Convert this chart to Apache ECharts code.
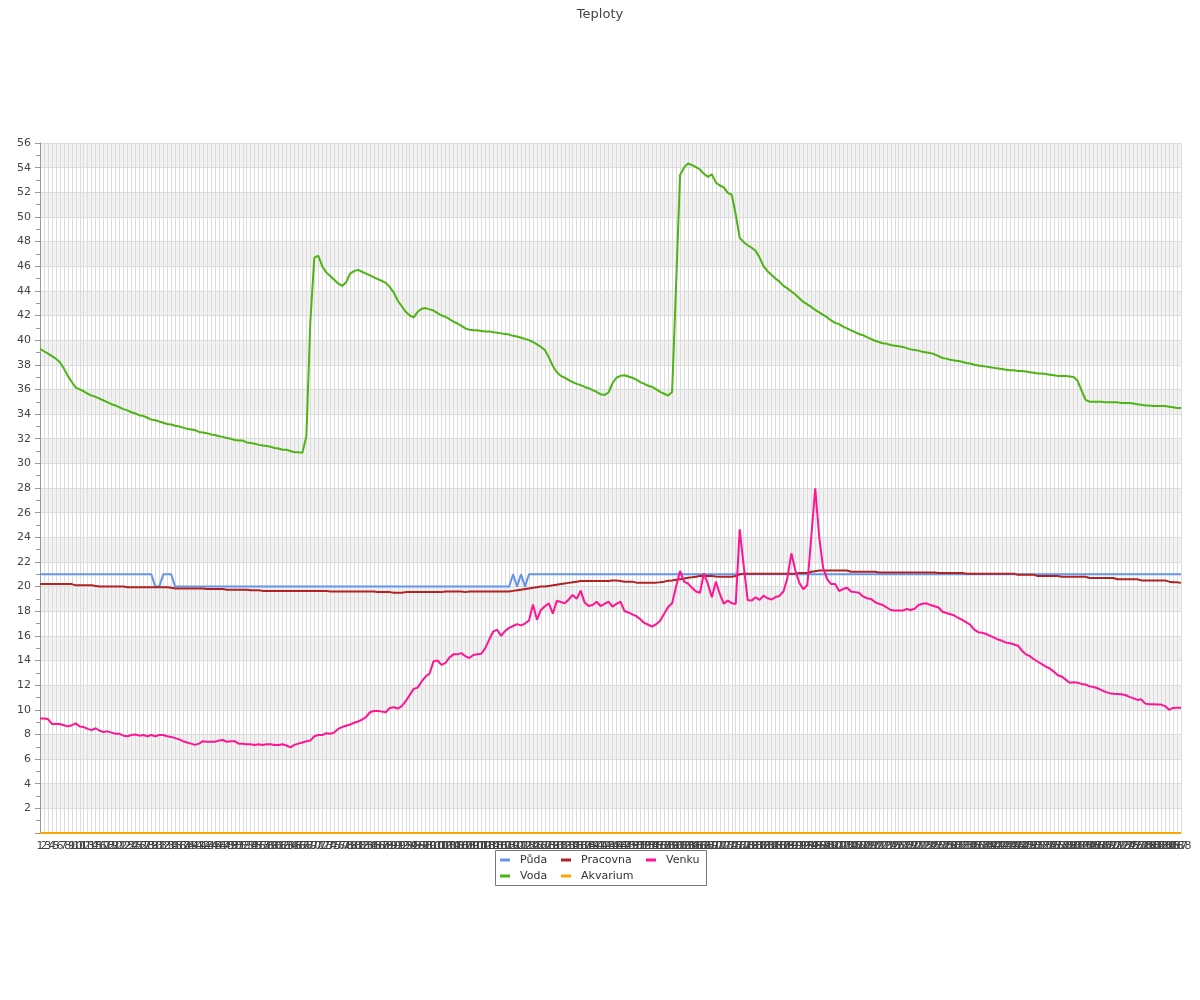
<!DOCTYPE html>
<html>
<head>
<meta charset="utf-8">
<script src="https://cdn.jsdelivr.net/npm/echarts@6/dist/echarts.min.js"></script>
<style>html,body{margin:0;padding:0;background:#fff;}#chart{width:1200px;height:1000px;}</style>
</head>
<body>
<div id="chart"></div>
<script>
// categories: sample numbers 1..288
const categories = Array.from({length: 288}, (_, i) => String(i + 1));

const puda = [
21,21,21,21,21,21,21,21,21,21,
21,21,21,21,21,21,21,21,21,21,
21,21,21,21,21,21,21,21,21,20,
20,21,21,21,20,20,20,20,20,20,
20,20,20,20,20,20,20,20,20,20,
20,20,20,20,20,20,20,20,20,20,
20,20,20,20,20,20,20,20,20,20,
20,20,20,20,20,20,20,20,20,20,
20,20,20,20,20,20,20,20,20,20,
20,20,20,20,20,20,20,20,20,20,
20,20,20,20,20,20,20,20,20,20,
20,20,20,20,20,20,20,20,20,21,
20,21,20,21,21,21,21,21,21,21,
21,21,21,21,21,21,21,21,21,21,
21,21,21,21,21,21,21,21,21,21,
21,21,21,21,21,21,21,21,21,21,
21,21,21,21,21,21,21,21,21,21,
21,21,21,21,21,21,21,21,21,21,
21,21,21,21,21,21,21,21,21,21,
21,21,21,21,21,21,21,21,21,21,
21,21,21,21,21,21,21,21,21,21,
21,21,21,21,21,21,21,21,21,21,
21,21,21,21,21,21,21,21,21,21,
21,21,21,21,21,21,21,21,21,21,
21,21,21,21,21,21,21,21,21,21,
21,21,21,21,21,21,21,21,21,21,
21,21,21,21,21,21,21,21,21,21,
21,21,21,21,21,21,21,21,21,21,
21,21,21,21,21,21,21,21
];

const voda = [
39.3,39.1,38.9,38.7,38.5,38.2,37.7,37.1,36.6,36.15,
36.0,35.85,35.65,35.5,35.4,35.25,35.1,34.95,34.8,34.7,
34.55,34.4,34.3,34.15,34.05,33.9,33.85,33.7,33.55,33.5,
33.4,33.3,33.2,33.15,33.05,33.0,32.9,32.8,32.75,32.7,
32.55,32.5,32.45,32.35,32.3,32.2,32.15,32.05,32.0,31.9,
31.85,31.85,31.7,31.65,31.6,31.5,31.45,31.4,31.35,31.25,
31.2,31.1,31.1,31.0,30.9,30.9,30.85,32.2,41.5,46.7,
46.85,46.0,45.5,45.2,44.9,44.6,44.4,44.7,45.4,45.6,
45.7,45.55,45.4,45.25,45.1,44.95,44.8,44.65,44.3,43.85,
43.2,42.75,42.3,42.0,41.85,42.3,42.55,42.6,42.5,42.4,
42.2,42.0,41.9,41.7,41.5,41.35,41.15,40.95,40.85,40.8,
40.8,40.75,40.7,40.7,40.65,40.6,40.55,40.5,40.45,40.35,
40.3,40.2,40.1,40.0,39.85,39.65,39.45,39.2,38.6,37.9,
37.4,37.1,36.95,36.75,36.6,36.45,36.35,36.2,36.1,35.95,
35.8,35.6,35.55,35.75,36.5,36.95,37.1,37.15,37.05,36.95,
36.8,36.6,36.45,36.3,36.2,36.0,35.8,35.65,35.5,35.8,
44.5,53.4,54.0,54.35,54.2,54.05,53.85,53.5,53.25,53.45,
52.8,52.55,52.4,51.95,51.8,50.2,48.3,47.95,47.7,47.5,
47.25,46.7,46.0,45.6,45.3,45.0,44.75,44.4,44.2,43.95,
43.7,43.4,43.1,42.9,42.7,42.45,42.25,42.05,41.85,41.6,
41.4,41.3,41.1,40.95,40.8,40.65,40.5,40.4,40.25,40.1,
39.95,39.85,39.75,39.7,39.6,39.55,39.5,39.45,39.35,39.25,
39.2,39.15,39.05,39.0,38.95,38.85,38.7,38.55,38.5,38.4,
38.35,38.3,38.25,38.15,38.1,38.0,37.95,37.9,37.85,37.8,
37.75,37.7,37.65,37.6,37.55,37.55,37.5,37.5,37.45,37.4,
37.35,37.3,37.3,37.25,37.2,37.15,37.1,37.1,37.1,37.05,
37.0,36.7,35.9,35.15,35.0,35.0,35.0,35.0,34.95,34.95,
34.95,34.95,34.9,34.9,34.9,34.85,34.8,34.75,34.7,34.7,
34.65,34.65,34.65,34.65,34.6,34.55,34.5,34.5
];

const pracovna = [
20.2,20.2,20.2,20.2,20.2,20.2,20.2,20.2,20.2,20.1,
20.1,20.1,20.1,20.1,20.05,20.0,20.0,20.0,20.0,20.0,
20.0,20.0,19.95,19.95,19.95,19.95,19.95,19.95,19.95,19.95,
19.95,19.95,19.95,19.9,19.85,19.85,19.85,19.85,19.85,19.85,
19.85,19.85,19.8,19.8,19.8,19.8,19.8,19.75,19.75,19.75,
19.75,19.75,19.75,19.7,19.7,19.7,19.65,19.65,19.65,19.65,
19.65,19.65,19.65,19.65,19.65,19.65,19.65,19.65,19.65,19.65,
19.65,19.65,19.65,19.6,19.6,19.6,19.6,19.6,19.6,19.6,
19.6,19.6,19.6,19.6,19.6,19.55,19.55,19.55,19.55,19.5,
19.5,19.5,19.55,19.55,19.55,19.55,19.55,19.55,19.55,19.55,
19.55,19.55,19.6,19.6,19.6,19.6,19.6,19.55,19.6,19.6,
19.6,19.6,19.6,19.6,19.6,19.6,19.6,19.6,19.6,19.65,
19.7,19.75,19.8,19.85,19.9,19.95,20.0,20.0,20.05,20.1,
20.15,20.2,20.25,20.3,20.35,20.4,20.45,20.45,20.45,20.45,
20.45,20.45,20.45,20.45,20.5,20.5,20.45,20.4,20.4,20.4,
20.32,20.32,20.32,20.32,20.32,20.32,20.35,20.4,20.48,20.5,
20.55,20.6,20.65,20.72,20.75,20.8,20.85,20.85,20.85,20.86,
20.82,20.8,20.8,20.8,20.8,20.85,21.0,21.05,21.05,21.05,
21.05,21.05,21.05,21.05,21.05,21.05,21.05,21.05,21.05,21.05,
21.05,21.1,21.1,21.1,21.2,21.25,21.3,21.3,21.3,21.3,
21.3,21.3,21.3,21.3,21.2,21.2,21.2,21.2,21.2,21.2,
21.2,21.15,21.15,21.15,21.15,21.15,21.15,21.15,21.15,21.15,
21.15,21.15,21.15,21.15,21.15,21.15,21.1,21.1,21.1,21.1,
21.1,21.1,21.1,21.05,21.05,21.05,21.05,21.05,21.05,21.05,
21.05,21.05,21.05,21.05,21.05,21.05,20.95,20.95,20.95,20.95,
20.95,20.85,20.85,20.85,20.85,20.85,20.85,20.8,20.8,20.8,
20.8,20.8,20.8,20.8,20.7,20.7,20.7,20.7,20.7,20.7,
20.7,20.6,20.6,20.6,20.6,20.6,20.6,20.5,20.5,20.5,
20.5,20.5,20.5,20.5,20.4,20.35,20.35,20.3
];

const akvarium = [
0,0,0,0,0,0,0,0,0,0, 0,0,0,0,0,0,0,0,0,0,
0,0,0,0,0,0,0,0,0,0, 0,0,0,0,0,0,0,0,0,0,
0,0,0,0,0,0,0,0,0,0, 0,0,0,0,0,0,0,0,0,0,
0,0,0,0,0,0,0,0,0,0, 0,0,0,0,0,0,0,0,0,0,
0,0,0,0,0,0,0,0,0,0, 0,0,0,0,0,0,0,0,0,0,
0,0,0,0,0,0,0,0,0,0, 0,0,0,0,0,0,0,0,0,0,
0,0,0,0,0,0,0,0,0,0, 0,0,0,0,0,0,0,0,0,0,
0,0,0,0,0,0,0,0,0,0, 0,0,0,0,0,0,0,0,0,0,
0,0,0,0,0,0,0,0,0,0, 0,0,0,0,0,0,0,0,0,0,
0,0,0,0,0,0,0,0,0,0, 0,0,0,0,0,0,0,0,0,0,
0,0,0,0,0,0,0,0,0,0, 0,0,0,0,0,0,0,0,0,0,
0,0,0,0,0,0,0,0,0,0, 0,0,0,0,0,0,0,0,0,0,
0,0,0,0,0,0,0,0,0,0, 0,0,0,0,0,0,0,0,0,0,
0,0,0,0,0,0,0,0,0,0, 0,0,0,0,0,0,0,0,0,0,
0,0,0,0,0,0,0,0
];

const venku = [
9.3,9.3,9.25,8.85,8.85,8.85,8.75,8.65,8.75,8.9,
8.65,8.6,8.45,8.35,8.5,8.3,8.2,8.25,8.15,8.05,
8.05,7.9,7.85,7.95,8.0,7.9,7.95,7.85,7.95,7.85,
7.95,7.95,7.85,7.8,7.7,7.6,7.45,7.35,7.25,7.15,
7.25,7.45,7.4,7.4,7.4,7.5,7.55,7.4,7.45,7.45,
7.25,7.25,7.2,7.2,7.15,7.2,7.15,7.2,7.2,7.15,
7.15,7.2,7.1,6.95,7.15,7.25,7.35,7.45,7.5,7.85,
7.95,7.95,8.1,8.05,8.15,8.45,8.6,8.7,8.8,8.95,
9.05,9.2,9.4,9.8,9.9,9.9,9.85,9.8,10.15,10.2,
10.1,10.3,10.7,11.2,11.7,11.8,12.3,12.7,12.95,13.95,
14.0,13.65,13.8,14.25,14.5,14.5,14.6,14.35,14.2,14.45,
14.5,14.55,15.0,15.7,16.35,16.5,16.0,16.4,16.65,16.8,
16.95,16.85,17.0,17.25,18.55,17.3,18.1,18.4,18.64,17.8,
18.85,18.75,18.64,18.95,19.32,19.0,19.67,18.7,18.42,18.5,
18.77,18.42,18.6,18.77,18.37,18.6,18.77,18.02,17.9,17.75,
17.6,17.35,17.05,16.9,16.75,16.95,17.23,17.8,18.35,18.64,
20.0,21.27,20.4,20.25,19.9,19.6,19.5,21.08,20.2,19.13,
20.4,19.4,18.6,18.86,18.65,18.59,24.65,21.7,18.91,18.86,
19.13,18.92,19.26,19.05,18.95,19.15,19.24,19.6,20.7,22.7,
21.3,20.3,19.78,20.13,24.0,27.98,24.0,21.5,20.6,20.2,
20.2,19.64,19.8,19.91,19.6,19.55,19.5,19.2,19.05,19.0,
18.75,18.6,18.5,18.3,18.1,18.05,18.05,18.05,18.18,18.1,
18.2,18.5,18.6,18.64,18.5,18.4,18.3,17.96,17.85,17.75,
17.65,17.45,17.3,17.1,16.9,16.5,16.3,16.25,16.15,16.0,
15.85,15.7,15.6,15.45,15.4,15.3,15.2,14.8,14.5,14.35,
14.1,13.9,13.7,13.5,13.35,13.1,12.8,12.7,12.45,12.2,
12.23,12.2,12.1,12.05,11.9,11.85,11.75,11.6,11.45,11.35,
11.3,11.28,11.26,11.2,11.05,10.95,10.8,10.85,10.5,10.45,
10.45,10.43,10.42,10.3,10.0,10.15,10.17,10.17
];

const FONT = 'DejaVu Sans';
const chart = echarts.init(document.getElementById('chart'), null, {renderer: 'canvas'});

function line(name, data, color) {
  return {
    name: name, type: 'line', data: data, showSymbol: false, symbol: 'none',
    smooth: false, lineStyle: {color: color, width: 2}, itemStyle: {color: color},
    emphasis: {disabled: true}
  };
}

const legendCommon = {
  orient: 'vertical', top: 853, itemWidth: 10, itemHeight: 3, itemGap: 2,
  icon: 'rect', padding: 0,
  textStyle: {fontFamily: FONT, fontSize: 11, color: '#333', lineHeight: 14, padding: [0, 0, 0, 5]}
};

chart.setOption({
  animation: false,
  backgroundColor: '#ffffff',
  title: {
    text: 'Teploty', left: 'center', top: 3,
    textStyle: {fontFamily: FONT, fontSize: 13, fontWeight: 'normal', color: '#444'}
  },
  legend: [
    Object.assign({}, legendCommon, {left: 500, data: ['Půda', 'Voda']}),
    Object.assign({}, legendCommon, {left: 561, data: ['Pracovna', 'Akvarium']}),
    Object.assign({}, legendCommon, {left: 646, data: ['Venku']})
  ],
  graphic: [{
    type: 'rect', shape: {x: 495.5, y: 850.5, width: 211, height: 35},
    style: {fill: null, stroke: '#777', lineWidth: 1}, silent: true
  }],
  grid: {left: 40, right: 19, top: 143, bottom: 167, containLabel: false},
  xAxis: {
    type: 'category', data: categories, boundaryGap: false,
    axisLine: {show: true, lineStyle: {color: '#999'}},
    axisTick: {show: false},
    axisLabel: {interval: 0, fontFamily: FONT, fontSize: 11, color: '#444', margin: 8},
    splitLine: {show: true, interval: 0, lineStyle: {color: '#dcdcdc', width: 1}}
  },
  yAxis: {
    type: 'value', min: 0, max: 56, interval: 2,
    axisLine: {show: true, lineStyle: {color: '#999'}},
    axisTick: {show: true, length: 5, lineStyle: {color: '#999'}},
    minorTick: {show: true, splitNumber: 2, length: 4, lineStyle: {color: '#999'}},
    axisLabel: {fontFamily: FONT, fontSize: 11, color: '#444', margin: 9,
      formatter: function (v) { return v === 0 ? '' : String(v); }},
    splitLine: {show: true, lineStyle: {color: '#dcdcdc', width: 1}},
    splitArea: {show: true, areaStyle: {color: ['#ffffff', '#f2f2f2']}}
  },
  series: [
    line('Půda', puda, '#6495ed'),
    line('Voda', voda, '#4cb414'),
    line('Pracovna', pracovna, '#b22222'),
    line('Akvarium', akvarium, '#ffa500'),
    line('Venku', venku, '#ff1493')
  ]
});
</script>
</body>
</html>
